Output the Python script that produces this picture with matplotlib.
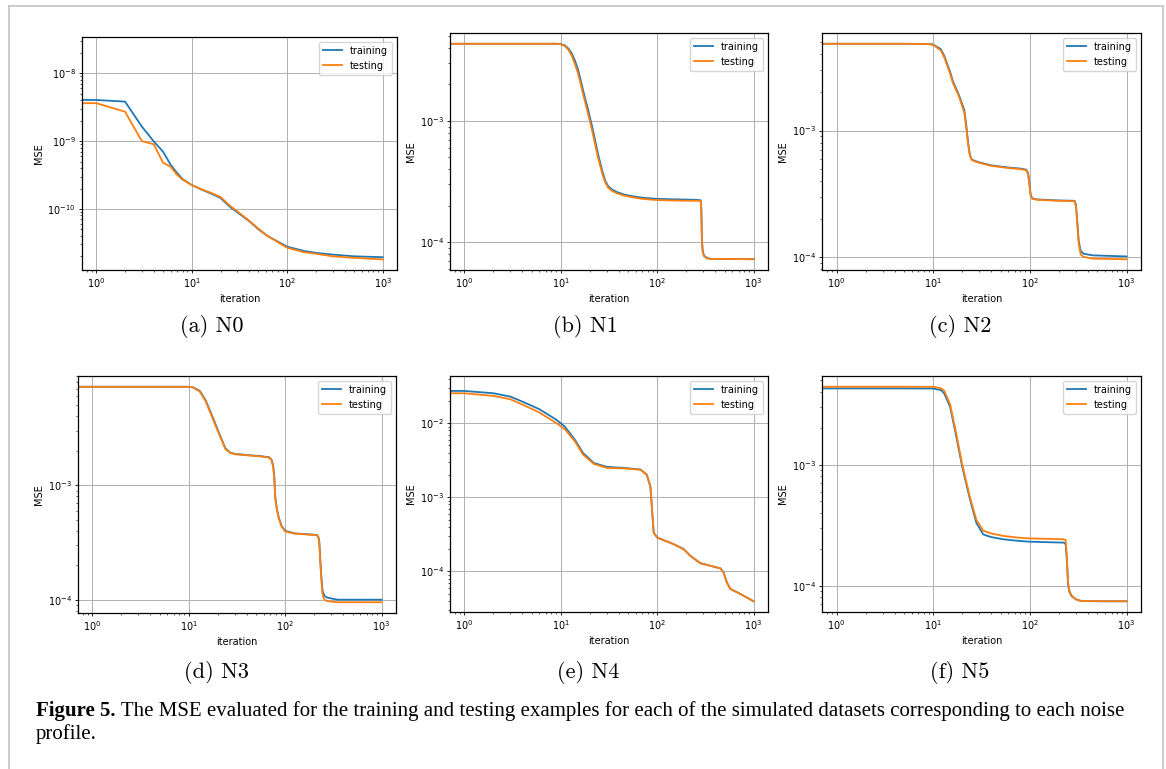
import matplotlib
matplotlib.use("Agg")
import matplotlib.pyplot as plt
from matplotlib.lines import Line2D

## Data (iteration, MSE)
x_n0 = [0, 1, 2, 3, 4, 5, 6, 7, 8, 10, 13, 16, 20, 25, 30, 40, 50, 62, 100, 150, 200, 300, 500, 700, 1000]
train_n0 = [2.4e-8, 4.05e-9, 3.83e-9, 1.64e-9, 9.9e-10, 7.0e-10, 4.5e-10, 3.4e-10, 2.76e-10, 2.25e-10, 1.9e-10,
            1.68e-10, 1.45e-10, 1.08e-10, 8.9e-11, 6.6e-11, 5.0e-11, 4.0e-11, 2.77e-11, 2.4e-11, 2.25e-11,
            2.12e-11, 2.0e-11, 1.97e-11, 1.94e-11]
test_n0 = [2.2e-8, 3.63e-9, 2.72e-9, 1.0e-9, 9.0e-10, 4.8e-10, 4.2e-10, 3.2e-10, 2.7e-10, 2.25e-10, 1.92e-10,
           1.72e-10, 1.5e-10, 1.12e-10, 9.2e-11, 6.7e-11, 5.1e-11, 4.0e-11, 2.67e-11, 2.3e-11, 2.18e-11,
           2.0e-11, 1.9e-11, 1.85e-11, 1.8e-11]

x_n1 = [0, 1, 3, 6, 9, 10, 11, 12, 13, 14, 15, 16, 17, 18, 19, 20, 21, 22, 23, 24, 25, 27, 29, 31, 34, 38,
        45, 55, 70, 100, 150, 200, 250, 283, 287, 291, 296, 305, 330, 360, 450, 600, 1000]
train_n1 = [4.33e-3, 4.33e-3, 4.33e-3, 4.33e-3, 4.33e-3, 4.3e-3, 4.2e-3, 3.95e-3, 3.6e-3, 3.15e-3, 2.7e-3,
            2.2e-3, 1.8e-3, 1.5e-3, 1.28e-3, 1.08e-3, 9.2e-4, 7.8e-4, 6.6e-4, 5.6e-4, 4.9e-4, 3.85e-4,
            3.2e-4, 2.9e-4, 2.72e-4, 2.6e-4, 2.48e-4, 2.4e-4, 2.33e-4, 2.28e-4, 2.26e-4, 2.25e-4, 2.24e-4,
            2.22e-4, 1.9e-4, 1.1e-4, 8.6e-5, 7.8e-5, 7.4e-5, 7.3e-5, 7.3e-5, 7.28e-5, 7.25e-5]
test_n1 = [4.33e-3, 4.33e-3, 4.33e-3, 4.33e-3, 4.33e-3, 4.28e-3, 4.15e-3, 3.85e-3, 3.45e-3, 2.95e-3, 2.5e-3,
           2.05e-3, 1.67e-3, 1.4e-3, 1.18e-3, 1.0e-3, 8.5e-4, 7.2e-4, 6.1e-4, 5.2e-4, 4.6e-4, 3.65e-4,
           3.1e-4, 2.82e-4, 2.65e-4, 2.54e-4, 2.43e-4, 2.35e-4, 2.28e-4, 2.23e-4, 2.21e-4, 2.2e-4, 2.2e-4,
           2.19e-4, 1.85e-4, 1.05e-4, 8.4e-5, 7.7e-5, 7.35e-5, 7.3e-5, 7.3e-5, 7.28e-5, 7.25e-5]

x_n2 = [0, 1, 5, 9, 10, 12, 13, 15, 16, 18, 19, 21, 22, 23, 24, 25, 27, 30, 40, 60, 80, 92, 96, 99, 102, 106,
        120, 200, 290, 300, 310, 320, 335, 360, 450, 1000]
train_n2 = [4.85e-3, 4.85e-3, 4.85e-3, 4.83e-3, 4.78e-3, 4.4e-3, 3.9e-3, 2.9e-3, 2.45e-3, 2.0e-3, 1.8e-3,
            1.45e-3, 1.1e-3, 8.0e-4, 6.4e-4, 5.9e-4, 5.75e-4, 5.6e-4, 5.3e-4, 5.1e-4, 5.0e-4, 4.9e-4, 4.6e-4,
            3.8e-4, 3.1e-4, 2.9e-4, 2.85e-4, 2.8e-4, 2.78e-4, 2.6e-4, 1.9e-4, 1.35e-4, 1.12e-4, 1.06e-4,
            1.03e-4, 1.01e-4]
test_n2 = [4.85e-3, 4.85e-3, 4.85e-3, 4.83e-3, 4.75e-3, 4.3e-3, 3.8e-3, 2.8e-3, 2.38e-3, 1.95e-3, 1.75e-3,
           1.38e-3, 1.05e-3, 7.7e-4, 6.3e-4, 5.85e-4, 5.7e-4, 5.55e-4, 5.25e-4, 5.05e-4, 4.95e-4, 4.85e-4,
           4.5e-4, 3.7e-4, 3.05e-4, 2.88e-4, 2.83e-4, 2.78e-4, 2.76e-4, 2.5e-4, 1.8e-4, 1.28e-4, 1.05e-4,
           1.0e-4, 9.7e-5, 9.6e-5]

x_n3 = [0, 1, 5, 10, 11, 13, 15, 18, 21, 24, 27, 30, 40, 55, 68, 72, 75, 77, 79, 82, 86, 92, 100, 125, 180,
        214, 222, 226, 229, 236, 244, 255, 275, 350, 500, 1000]
train_n3 = [7.27e-3, 7.27e-3, 7.27e-3, 7.27e-3, 7.2e-3, 6.7e-3, 5.5e-3, 3.8e-3, 2.75e-3, 2.1e-3, 1.93e-3,
            1.88e-3, 1.84e-3, 1.8e-3, 1.76e-3, 1.68e-3, 1.5e-3, 1.2e-3, 7.8e-4, 6.2e-4, 5.2e-4, 4.4e-4,
            4.0e-4, 3.8e-4, 3.72e-4, 3.68e-4, 3.5e-4, 3.2e-4, 2.6e-4, 1.7e-4, 1.2e-4, 1.08e-4, 1.04e-4,
            1.0e-4, 1.0e-4, 1.0e-4]
test_n3 = [7.27e-3, 7.27e-3, 7.27e-3, 7.27e-3, 7.18e-3, 6.6e-3, 5.4e-3, 3.7e-3, 2.7e-3, 2.07e-3, 1.92e-3,
           1.87e-3, 1.83e-3, 1.79e-3, 1.75e-3, 1.66e-3, 1.45e-3, 1.15e-3, 7.6e-4, 6.1e-4, 5.1e-4, 4.35e-4,
           3.95e-4, 3.78e-4, 3.7e-4, 3.66e-4, 3.45e-4, 3.1e-4, 2.5e-4, 1.6e-4, 1.12e-4, 1.0e-4, 9.7e-5,
           9.5e-5, 9.5e-5, 9.5e-5]

x_n4 = [0, 1, 2, 3, 4, 6, 9, 11, 14, 17, 22, 30, 45, 67, 78, 85, 88, 92, 100, 148, 188, 221, 280, 356, 452,
        489, 529, 573, 728, 1000]
train_n4 = [3.1e-2, 2.72e-2, 2.53e-2, 2.28e-2, 1.95e-2, 1.54e-2, 1.11e-2, 9.0e-3, 5.97e-3, 3.96e-3, 2.9e-3,
            2.57e-3, 2.49e-3, 2.37e-3, 2.02e-3, 1.41e-3, 7.6e-4, 3.33e-4, 2.86e-4, 2.33e-4, 2.0e-4, 1.62e-4,
            1.29e-4, 1.19e-4, 1.1e-4, 9.7e-5, 7.1e-5, 5.8e-5, 4.97e-5, 3.95e-5]
test_n4 = [2.9e-2, 2.53e-2, 2.33e-2, 2.1e-2, 1.78e-2, 1.39e-2, 1.0e-2, 8.3e-3, 5.67e-3, 3.76e-3, 2.82e-3,
           2.49e-3, 2.45e-3, 2.35e-3, 2.0e-3, 1.38e-3, 7.4e-4, 3.3e-4, 2.85e-4, 2.33e-4, 2.0e-4, 1.62e-4,
           1.29e-4, 1.19e-4, 1.1e-4, 9.6e-5, 7.0e-5, 5.8e-5, 4.97e-5, 3.95e-5]

x_n5 = [0, 1, 5, 10, 12, 13, 15, 17, 20, 24, 28, 33, 40, 53, 75, 100, 150, 225, 235, 242, 248, 255, 270, 300,
        333, 400, 600, 1000]
train_n5 = [4.28e-3, 4.28e-3, 4.28e-3, 4.27e-3, 4.15e-3, 3.9e-3, 3.0e-3, 1.85e-3, 9.6e-4, 5.2e-4, 3.3e-4,
            2.65e-4, 2.52e-4, 2.42e-4, 2.35e-4, 2.31e-4, 2.29e-4, 2.27e-4, 2.2e-4, 1.6e-4, 1.05e-4, 9.0e-5,
            8.2e-5, 7.7e-5, 7.5e-5, 7.45e-5, 7.43e-5, 7.43e-5]
test_n5 = [4.42e-3, 4.42e-3, 4.42e-3, 4.41e-3, 4.3e-3, 4.1e-3, 3.15e-3, 1.95e-3, 1.0e-3, 5.4e-4, 3.5e-4,
           2.85e-4, 2.7e-4, 2.58e-4, 2.5e-4, 2.46e-4, 2.44e-4, 2.42e-4, 2.38e-4, 1.7e-4, 1.08e-4, 9.2e-5,
           8.3e-5, 7.7e-5, 7.5e-5, 7.45e-5, 7.43e-5, 7.43e-5]

panels = [
    ("(a) N0", x_n0, train_n0, test_n0),
    ("(b) N1", x_n1, train_n1, test_n1),
    ("(c) N2", x_n2, train_n2, test_n2),
    ("(d) N3", x_n3, train_n3, test_n3),
    ("(e) N4", x_n4, train_n4, test_n4),
    ("(f) N5", x_n5, train_n5, test_n5),
]

caption_bold = "Figure 5."
caption_line1 = " The MSE evaluated for the training and testing examples for each of the simulated datasets corresponding to each noise"
caption_line2 = "profile."

## Style (matplotlib defaults shrunk to the printed size)
s = 0.64
plt.rcParams.update({
    "font.size": 7,
    "lines.linewidth": 1.3,
    "axes.linewidth": 0.9,
    "grid.linewidth": 0.7,
    "xtick.major.size": 3.5 * s, "ytick.major.size": 3.5 * s,
    "xtick.minor.size": 2 * s, "ytick.minor.size": 2 * s,
    "xtick.major.width": 0.6, "ytick.major.width": 0.6,
    "xtick.minor.width": 0.45, "ytick.minor.width": 0.45,
    "xtick.major.pad": 3.5 * s, "ytick.major.pad": 3.5 * s,
    "axes.labelpad": 4 * s,
})

W, H = 1166, 769
fig = plt.figure(figsize=(W / 100, H / 100), dpi=100)

# axes boxes in pixels: left, top, right, bottom
boxes = [(82, 37, 397, 270), (450, 33, 768, 270), (822, 33, 1141, 270),
         (78, 376, 396, 613), (450, 376, 768, 612), (822, 376, 1141, 612)]
cap_pos = [(212, 326), (585, 326), (960, 326), (216, 672), (588, 672), (960, 672)]

for (title, x, tr, te), (l, t, r, b), (cx, cy) in zip(panels, boxes, cap_pos):
    ax = fig.add_axes([l / W, 1 - b / H, (r - l) / W, (b - t) / H])
    ax.plot(x, tr, label="training")
    ax.plot(x, te, label="testing")
    ax.set_xscale("log")
    ax.set_yscale("log")
    ax.grid(True)
    ax.set_xlabel("iteration")
    ax.set_ylabel("MSE")
    ax.legend(loc="upper right")
    fig.text(cx / W, 1 - cy / H, title, family="cmr10", fontsize=16, ha="center", va="center")

# figure caption
fs = 15
t1 = fig.text(36 / W, 1 - 711 / H, caption_bold, family="Liberation Serif", weight="bold",
              fontsize=fs, va="center")
r = fig.canvas.get_renderer()
bb = t1.get_window_extent(r)
fig.text(bb.x1 / W, 1 - 711 / H, caption_line1, family="Liberation Serif", fontsize=fs, va="center")
fig.text(36 / W, 1 - 734 / H, caption_line2, family="Liberation Serif", fontsize=fs, va="center")

# page frame
frame = dict(color="#c8c8c8", linewidth=1.3, transform=fig.transFigure)
fig.add_artist(Line2D([9 / W, 9 / W], [-0.01, 1 - 6 / H], **frame))
fig.add_artist(Line2D([9 / W, 1163 / W], [1 - 6 / H, 1 - 6 / H], **frame))
fig.add_artist(Line2D([1163 / W, 1163 / W], [1 - 6 / H, -0.01], **frame))

fig.savefig("out.png", dpi=100)
